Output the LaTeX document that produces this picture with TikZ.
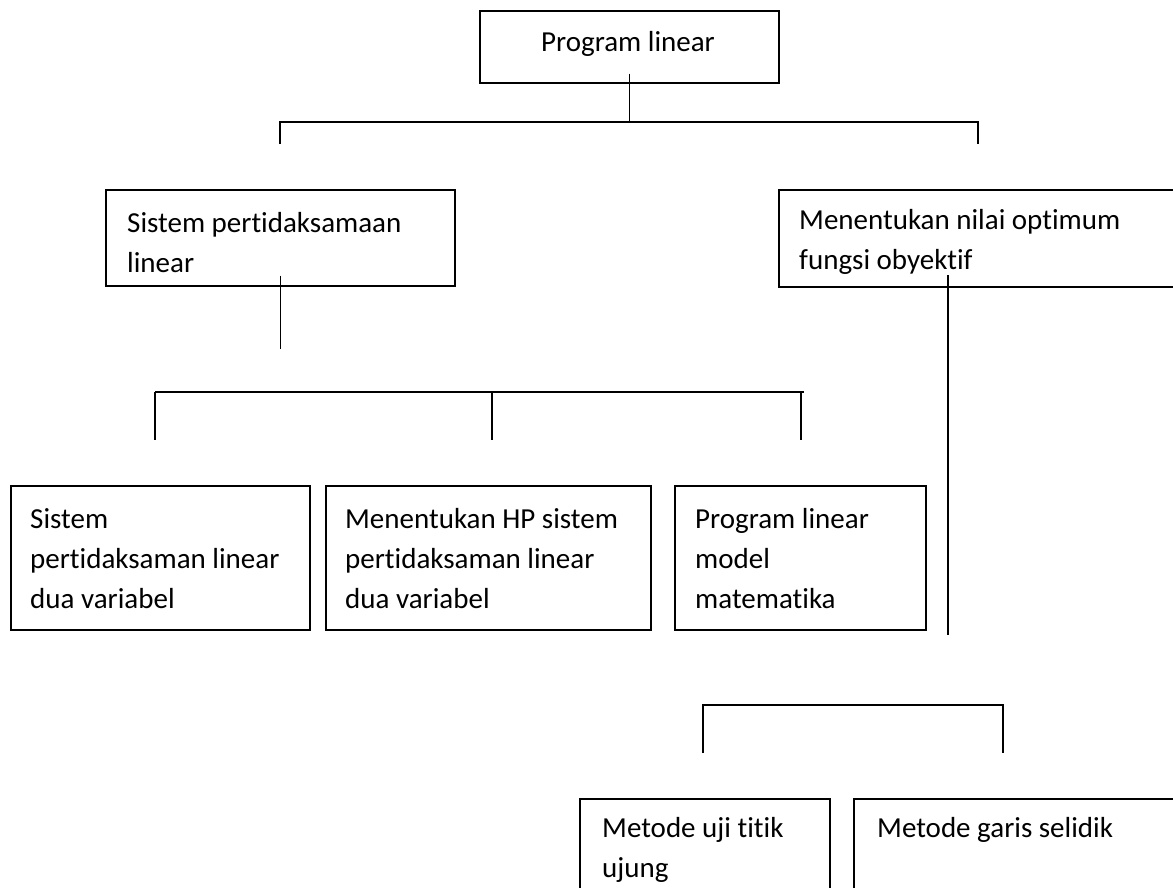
\documentclass[tikz,border=0pt]{standalone}
\usepackage{fontspec}
\setmainfont{Carlito}[Ligatures=NoCommon]
\begin{document}
\begin{tikzpicture}[x=1pt,y=-1pt,
  box/.style={draw, line width=1.6pt, inner sep=0pt, anchor=north west},
  lbl/.style={anchor=north west, inner sep=0pt, align=left, font=\fontsize{29}{40}\selectfont},
  ctxt/.style={anchor=base, inner sep=0pt, font=\fontsize{29}{40}\selectfont},
  conn/.style={line width=1.6pt}]
\useasboundingbox (0,0) rectangle (1173,887);

% boxes
\node[box, minimum width=299pt, minimum height=72pt] (top) at (479,10) {};
\node[box, minimum width=349pt, minimum height=96pt] (sys) at (105,189) {};
\node[box, minimum width=450pt, minimum height=97pt] (opt) at (778,189) {};
\node[box, minimum width=299pt, minimum height=144pt] (b1) at (10,485) {};
\node[box, minimum width=325pt, minimum height=144pt] (b2) at (325,485) {};
\node[box, minimum width=251pt, minimum height=144pt] (b3) at (674,485) {};
\node[box, minimum width=250pt, minimum height=120pt] (ba) at (579,798) {};
\node[box, minimum width=400pt, minimum height=120pt] (bb) at (853,798) {};

% texts
\node[ctxt] (toptxt) at (628,51) {Program linear};
\node[lbl] (systxt) at (127,210) {\rule{0pt}{22pt}Sistem pertidaksamaan\\linear};
\node[lbl] (opttxt) at (799,207) {\rule{0pt}{22pt}Menentukan nilai optimum\\fungsi obyektif};
\node[lbl] (b1txt) at (30,506) {\rule{0pt}{22pt}Sistem\\pertidaksaman linear\\dua variabel};
\node[lbl] (b2txt) at (345,506) {\rule{0pt}{22pt}Menentukan HP sistem\\pertidaksaman linear\\dua variabel};
\node[lbl] (b3txt) at (695,506) {\rule{0pt}{22pt}Program linear\\model\\matematika};
\node[lbl] (batxt) at (602,815) {\rule{0pt}{22pt}Metode uji titik\\ujung};
\node[lbl] (bbtxt) at (877,815) {\rule{0pt}{22pt}Metode garis selidik};

% junction coordinates
\coordinate (h0l) at (280,122);
\coordinate (h0r) at (978,122);
\coordinate (h1l) at (155,392);
\coordinate (h1m) at (492,392);
\coordinate (h1r) at (801,392);
\coordinate (h1e) at (804,392);
\coordinate (m1) at (948,275);
\coordinate (m2) at (948,635);
\coordinate (h2l) at (703,705);
\coordinate (h2r) at (1003,705);

% connectors
\draw[conn] ([yshift=10pt]top.south) -- (top.south |- h0l);
\draw[conn] ([yshift=-22pt]h0l) -- (h0l) -- (h0r) -- ([yshift=-22pt]h0r);
\draw[conn] ([yshift=11pt]sys.south) -- ++(0,73);
\draw[conn] (h1l) -- (h1e);
\draw[conn] (h1l) -- ++(0,48);
\draw[conn] (h1m) -- ++(0,48);
\draw[conn] (h1r) -- ++(0,48);
\draw[conn] (m1) -- (m2);
\draw[conn] ([yshift=-48pt]h2l) -- (h2l) -- (h2r) -- ([yshift=-48pt]h2r);
\end{tikzpicture}
\end{document}
